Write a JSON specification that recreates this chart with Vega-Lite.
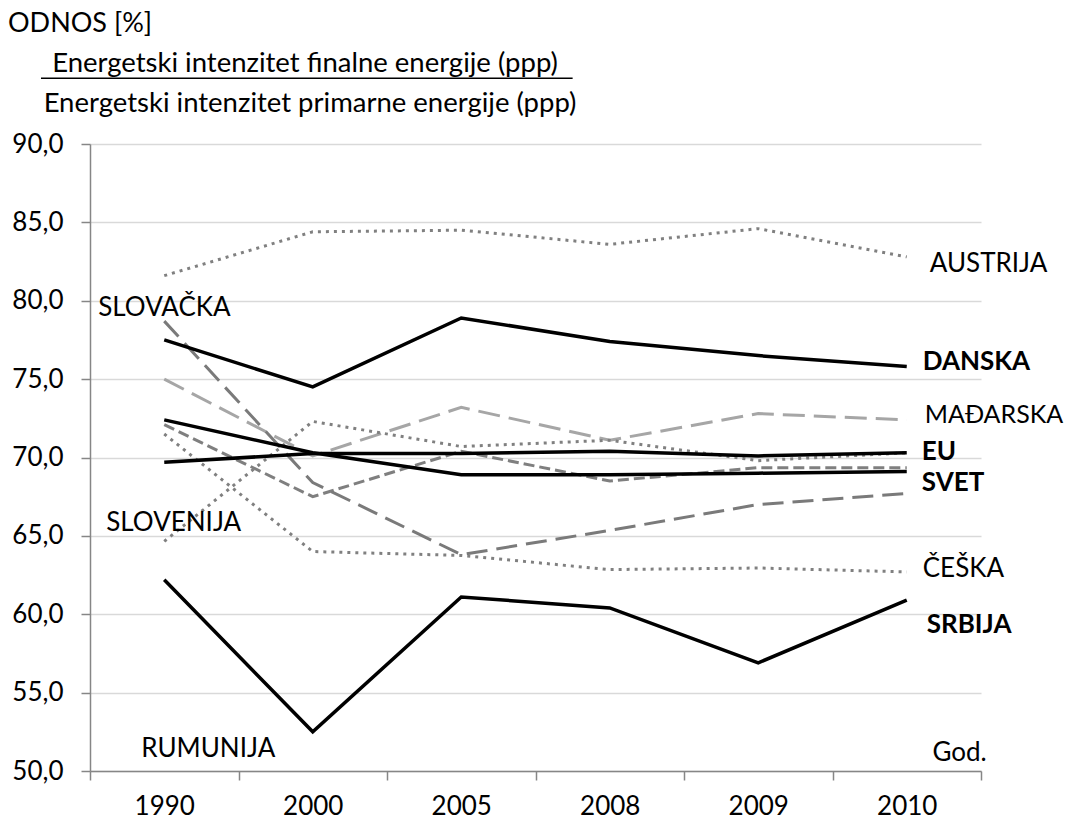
{
  "$schema": "https://vega.github.io/schema/vega-lite/v6.json",
  "autosize": "none",
  "width": 891,
  "height": 627,
  "padding": {"left": 90, "top": 144, "right": 84, "bottom": 51},
  "config": {
    "font": "Lato",
    "view": {"stroke": null},
    "locale": {"number": {"decimal": ",", "thousands": ".", "grouping": [3], "currency": ["", ""]}}
  },
  "datasets": {
    "series": [
      {"country": "AUSTRIJA", "year": "1990", "value": 81.6},
      {"country": "AUSTRIJA", "year": "2000", "value": 84.4},
      {"country": "AUSTRIJA", "year": "2005", "value": 84.5},
      {"country": "AUSTRIJA", "year": "2008", "value": 83.6},
      {"country": "AUSTRIJA", "year": "2009", "value": 84.6},
      {"country": "AUSTRIJA", "year": "2010", "value": 82.8},
      {"country": "DANSKA", "year": "1990", "value": 77.5},
      {"country": "DANSKA", "year": "2000", "value": 74.5},
      {"country": "DANSKA", "year": "2005", "value": 78.9},
      {"country": "DANSKA", "year": "2008", "value": 77.4},
      {"country": "DANSKA", "year": "2009", "value": 76.5},
      {"country": "DANSKA", "year": "2010", "value": 75.8},
      {"country": "MAĐARSKA", "year": "1990", "value": 75.0},
      {"country": "MAĐARSKA", "year": "2000", "value": 70.1},
      {"country": "MAĐARSKA", "year": "2005", "value": 73.2},
      {"country": "MAĐARSKA", "year": "2008", "value": 71.1},
      {"country": "MAĐARSKA", "year": "2009", "value": 72.8},
      {"country": "MAĐARSKA", "year": "2010", "value": 72.4},
      {"country": "EU", "year": "1990", "value": 69.7},
      {"country": "EU", "year": "2000", "value": 70.25},
      {"country": "EU", "year": "2005", "value": 70.25},
      {"country": "EU", "year": "2008", "value": 70.4},
      {"country": "EU", "year": "2009", "value": 70.1},
      {"country": "EU", "year": "2010", "value": 70.3},
      {"country": "SVET", "year": "1990", "value": 72.4},
      {"country": "SVET", "year": "2000", "value": 70.3},
      {"country": "SVET", "year": "2005", "value": 68.9},
      {"country": "SVET", "year": "2008", "value": 68.9},
      {"country": "SVET", "year": "2009", "value": 69.0},
      {"country": "SVET", "year": "2010", "value": 69.1},
      {"country": "RUMUNIJA", "year": "1990", "value": 72.1},
      {"country": "RUMUNIJA", "year": "2000", "value": 67.5},
      {"country": "RUMUNIJA", "year": "2005", "value": 70.4},
      {"country": "RUMUNIJA", "year": "2008", "value": 68.5},
      {"country": "RUMUNIJA", "year": "2009", "value": 69.35},
      {"country": "RUMUNIJA", "year": "2010", "value": 69.35},
      {"country": "SLOVAČKA", "year": "1990", "value": 78.7},
      {"country": "SLOVAČKA", "year": "2000", "value": 68.4},
      {"country": "SLOVAČKA", "year": "2005", "value": 63.8},
      {"country": "SLOVAČKA", "year": "2008", "value": 65.35},
      {"country": "SLOVAČKA", "year": "2009", "value": 67.0},
      {"country": "SLOVAČKA", "year": "2010", "value": 67.7},
      {"country": "ČEŠKA", "year": "1990", "value": 71.5},
      {"country": "ČEŠKA", "year": "2000", "value": 64.0},
      {"country": "ČEŠKA", "year": "2005", "value": 63.75},
      {"country": "ČEŠKA", "year": "2008", "value": 62.85},
      {"country": "ČEŠKA", "year": "2009", "value": 62.95},
      {"country": "ČEŠKA", "year": "2010", "value": 62.7},
      {"country": "SLOVENIJA", "year": "1990", "value": 64.65},
      {"country": "SLOVENIJA", "year": "2000", "value": 72.3},
      {"country": "SLOVENIJA", "year": "2005", "value": 70.7},
      {"country": "SLOVENIJA", "year": "2008", "value": 71.1},
      {"country": "SLOVENIJA", "year": "2009", "value": 69.8},
      {"country": "SLOVENIJA", "year": "2010", "value": 70.3},
      {"country": "SRBIJA", "year": "1990", "value": 62.2},
      {"country": "SRBIJA", "year": "2000", "value": 52.5},
      {"country": "SRBIJA", "year": "2005", "value": 61.1},
      {"country": "SRBIJA", "year": "2008", "value": 60.4},
      {"country": "SRBIJA", "year": "2009", "value": 56.9},
      {"country": "SRBIJA", "year": "2010", "value": 60.9}
    ],
    "one": [{"k": 1}]
  },
  "layer": [
    {
      "data": {"name": "series"},
      "transform": [{"filter": {"field": "country", "oneOf": ["MAĐARSKA", "AUSTRIJA", "ČEŠKA", "SLOVENIJA", "RUMUNIJA", "SLOVAČKA"]}}],
      "mark": {"type": "line", "strokeWidth": 3},
      "encoding": {
        "x": {
          "field": "year", "type": "ordinal", "bandPosition": 0.5,
          "scale": {"type": "band", "paddingInner": 0, "paddingOuter": 0},
          "axis": {
            "title": null, "labelAngle": 0, "tickBand": "extent", "tickSize": 9, "labelPadding": 13,
            "labelFont": "Lato", "labelFontSize": 26, "labelColor": "black",
            "domainColor": "#868686", "domainWidth": 1.5, "tickColor": "#868686", "tickWidth": 1.5, "grid": false
          }
        },
        "y": {
          "field": "value", "type": "quantitative",
          "scale": {"domain": [50, 90], "nice": false, "zero": false},
          "axis": {
            "title": null, "values": [50, 55, 60, 65, 70, 75, 80, 85, 90], "format": ".1f",
            "tickSize": 9, "labelPadding": 18, "labelFont": "Lato", "labelFontSize": 26, "labelColor": "black",
            "domainColor": "#868686", "domainWidth": 1.5, "tickColor": "#868686", "tickWidth": 1.5,
            "gridColor": "#d9d9d9", "gridWidth": 1.5
          }
        },
        "color": {"field": "country", "type": "nominal", "legend": null,
          "scale": {"domain": ["MAĐARSKA", "AUSTRIJA", "ČEŠKA", "SLOVENIJA", "RUMUNIJA", "SLOVAČKA"],
                    "range": ["#a6a6a6", "#808080", "#808080", "#808080", "#7f7f7f", "#7a7a7a"]}},
        "strokeDash": {"field": "country", "type": "nominal", "legend": null,
          "scale": {"domain": ["MAĐARSKA", "AUSTRIJA", "ČEŠKA", "SLOVENIJA", "RUMUNIJA", "SLOVAČKA"],
                    "range": [[22, 9], [3, 5], [3, 5], [3, 5], [11, 5], [21, 9]]}}
      }
    },
    {
      "data": {"name": "series"},
      "transform": [{"filter": {"field": "country", "oneOf": ["DANSKA", "EU", "SVET", "SRBIJA"]}}],
      "mark": {"type": "line", "strokeWidth": 3.5, "color": "black"},
      "encoding": {
        "x": {"field": "year", "type": "ordinal", "bandPosition": 0.5},
        "y": {"field": "value", "type": "quantitative"},
        "detail": {"field": "country", "type": "nominal"}
      }
    },
    {"data": {"name": "one"}, "mark": {"type": "text", "align": "left", "baseline": "alphabetic", "dx": 23, "fontSize": 26, "font": "Lato", "color": "black"},
     "encoding": {"x": {"datum": "2010", "type": "ordinal", "bandPosition": 0.5}, "y": {"datum": 81.86, "type": "quantitative"}, "text": {"value": "AUSTRIJA"}}},
    {"data": {"name": "one"}, "mark": {"type": "text", "align": "left", "baseline": "alphabetic", "dx": 16, "fontSize": 26, "font": "Lato", "color": "black", "fontWeight": "bold"},
     "encoding": {"x": {"datum": "2010", "type": "ordinal", "bandPosition": 0.5}, "y": {"datum": 75.6, "type": "quantitative"}, "text": {"value": "DANSKA"}}},
    {"data": {"name": "one"}, "mark": {"type": "text", "align": "left", "baseline": "alphabetic", "dx": 18, "fontSize": 25, "font": "Lato", "color": "black"},
     "encoding": {"x": {"datum": "2010", "type": "ordinal", "bandPosition": 0.5}, "y": {"datum": 72.2, "type": "quantitative"}, "text": {"value": "MAĐARSKA"}}},
    {"data": {"name": "one"}, "mark": {"type": "text", "align": "left", "baseline": "alphabetic", "dx": 15, "fontSize": 26, "font": "Lato", "color": "black", "fontWeight": "bold"},
     "encoding": {"x": {"datum": "2010", "type": "ordinal", "bandPosition": 0.5}, "y": {"datum": 69.86, "type": "quantitative"}, "text": {"value": "EU"}}},
    {"data": {"name": "one"}, "mark": {"type": "text", "align": "left", "baseline": "alphabetic", "dx": 15, "fontSize": 26, "font": "Lato", "color": "black", "fontWeight": "bold"},
     "encoding": {"x": {"datum": "2010", "type": "ordinal", "bandPosition": 0.5}, "y": {"datum": 67.84, "type": "quantitative"}, "text": {"value": "SVET"}}},
    {"data": {"name": "one"}, "mark": {"type": "text", "align": "left", "baseline": "alphabetic", "dx": 16, "fontSize": 26, "font": "Lato", "color": "black"},
     "encoding": {"x": {"datum": "2010", "type": "ordinal", "bandPosition": 0.5}, "y": {"datum": 62.4, "type": "quantitative"}, "text": {"value": "ČEŠKA"}}},
    {"data": {"name": "one"}, "mark": {"type": "text", "align": "left", "baseline": "alphabetic", "dx": 20, "fontSize": 26, "font": "Lato", "color": "black", "fontWeight": "bold"},
     "encoding": {"x": {"datum": "2010", "type": "ordinal", "bandPosition": 0.5}, "y": {"datum": 58.8, "type": "quantitative"}, "text": {"value": "SRBIJA"}}},
    {"data": {"name": "one"}, "mark": {"type": "text", "align": "right", "baseline": "alphabetic", "dx": 80, "fontSize": 26, "font": "Lato", "color": "black"},
     "encoding": {"x": {"datum": "2010", "type": "ordinal", "bandPosition": 0.5}, "y": {"datum": 50.61, "type": "quantitative"}, "text": {"value": "God."}}},
    {"data": {"name": "one"}, "mark": {"type": "text", "align": "left", "baseline": "alphabetic", "dx": -66, "fontSize": 26, "font": "Lato", "color": "black"},
     "encoding": {"x": {"datum": "1990", "type": "ordinal", "bandPosition": 0.5}, "y": {"datum": 79.0, "type": "quantitative"}, "text": {"value": "SLOVAČKA"}}},
    {"data": {"name": "one"}, "mark": {"type": "text", "align": "left", "baseline": "alphabetic", "dx": -58, "fontSize": 26, "font": "Lato", "color": "black"},
     "encoding": {"x": {"datum": "1990", "type": "ordinal", "bandPosition": 0.5}, "y": {"datum": 65.3, "type": "quantitative"}, "text": {"value": "SLOVENIJA"}}},
    {"data": {"name": "one"}, "mark": {"type": "text", "align": "left", "baseline": "alphabetic", "dx": -23, "fontSize": 26, "font": "Lato", "color": "black"},
     "encoding": {"x": {"datum": "1990", "type": "ordinal", "bandPosition": 0.5}, "y": {"datum": 50.87, "type": "quantitative"}, "text": {"value": "RUMUNIJA"}}},
    {"data": {"name": "one"}, "mark": {"type": "text", "align": "left", "baseline": "alphabetic", "dx": -82, "fontSize": 27, "font": "Lato", "color": "black"},
     "encoding": {"x": {"datum": "1990", "type": "ordinal", "bandPosition": 0}, "y": {"datum": 97.16, "type": "quantitative"}, "text": {"value": "ODNOS [%]"}}},
    {"data": {"name": "one"}, "mark": {"type": "text", "align": "center", "baseline": "alphabetic", "dx": 215, "fontSize": 27.5, "font": "Lato", "color": "black"},
     "encoding": {"x": {"datum": "1990", "type": "ordinal", "bandPosition": 0}, "y": {"datum": 94.61, "type": "quantitative"}, "text": {"value": "Energetski intenzitet finalne energije (ppp)"}}},
    {"data": {"name": "one"}, "mark": {"type": "text", "align": "center", "baseline": "alphabetic", "dx": 220, "fontSize": 27.5, "font": "Lato", "color": "black"},
     "encoding": {"x": {"datum": "1990", "type": "ordinal", "bandPosition": 0}, "y": {"datum": 92.06, "type": "quantitative"}, "text": {"value": "Energetski intenzitet primarne energije (ppp)"}}},
    {"data": {"name": "one"}, "mark": {"type": "rule", "color": "black", "strokeWidth": 1.5},
     "encoding": {"x": {"datum": "1990", "type": "ordinal", "bandPosition": -0.33}, "x2": {"datum": "2008", "bandPosition": 0.25}, "y": {"datum": 94.19, "type": "quantitative"}}}
  ]
}
